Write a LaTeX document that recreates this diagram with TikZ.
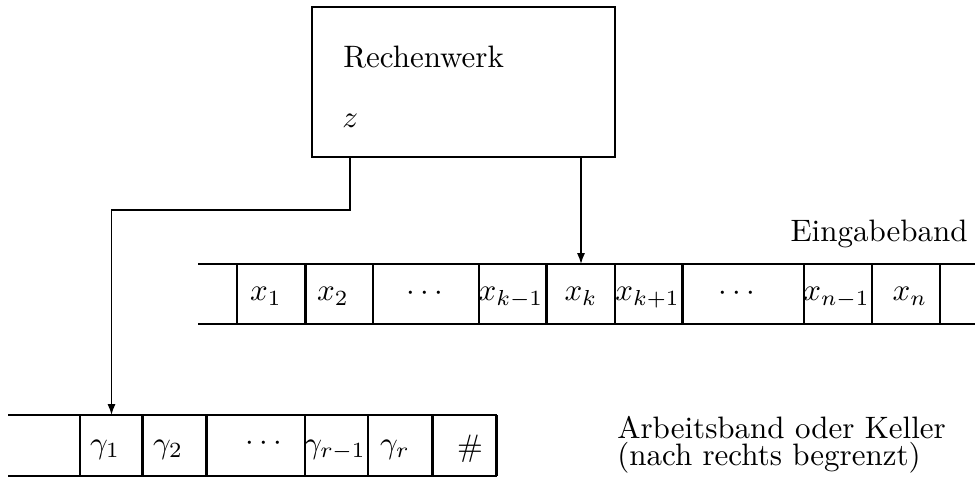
\documentclass[tikz,border=0pt]{standalone}
\usetikzlibrary{arrows.meta}
\begin{document}
\begin{tikzpicture}[x=0.3226pt,y=-0.3226pt,
  tapeline/.style={line width=0.8pt},
  boxline/.style={draw,line width=0.75pt,inner sep=0pt},
  conn/.style={line width=0.5pt,-{Latex[length=3.5pt,width=2.6pt]}},
  cell/.style={anchor=base,inner sep=0pt},
  lbl/.style={anchor=base west,inner sep=0pt}]
\useasboundingbox (0,0) rectangle (975,481);
% Rechenwerk box
\node[boxline,minimum width=97.75pt,minimum height=48.4pt] (rw) at (463.5,82) {};
\node[lbl] (rwt) at (342.7,68) {Rechenwerk};
\node[lbl] (zt) at (341.7,128) {$z$};
% input tape
\draw[tapeline] (198,264) -- (975,264) (198,324) -- (975,324);
\foreach \x in {237,305.7,373,479,546.7,615,682.7,804,872,940}
  \draw[tapeline] (\x,264) -- (\x,324);
\node[cell] (x1) at (266,301) {$x_1$};
\node[cell] (x2) at (333,301) {$x_2$};
\node[cell] (xd1) at (425,301) {$\cdots$};
\node[cell] (xkm) at (511,301) {$x_{k-1}$};
\node[cell] (xk) at (581,301) {$x_k$};
\node[cell] (xkp) at (647.5,301) {$x_{k+1}$};
\node[cell] (xd2) at (737,301) {$\cdots$};
\node[cell] (xnm) at (836.5,301) {$x_{n-1}$};
\node[cell] (xn) at (910,301) {$x_n$};
\node[lbl] (eb) at (790,242) {Eingabeband};
% work tape
\draw[tapeline] (8,415) -- (496.7,415) (8,476) -- (496.7,476);
\foreach \x in {80,142.7,206.7,305,368,432.7,496.7}
  \draw[tapeline] (\x,415) -- (\x,476);
\node[cell] (g1) at (105,453) {$\gamma_1$};
\node[cell] (g2) at (168,453) {$\gamma_2$};
\node[cell] (gd) at (264,451) {$\cdots$};
\node[cell] (grm) at (335,453) {$\gamma_{r-1}$};
\node[cell] (gr) at (395,453) {$\gamma_r$};
\node[cell] (hash) at (470,456) {$\#$};
\node[lbl] (ab1) at (616.7,438) {Arbeitsband oder Keller};
\node[lbl] (ab2) at (616.7,465) {(nach rechts begrenzt)};
% connectors
\coordinate (tk) at (581,264);
\coordinate (tg) at (111.5,415);
\coordinate (zo) at (350,157);
\draw[conn] (rw.south -| tk) -- (tk);
\draw[conn] (zo) -- (350,210) -| (tg);
\end{tikzpicture}
\end{document}
